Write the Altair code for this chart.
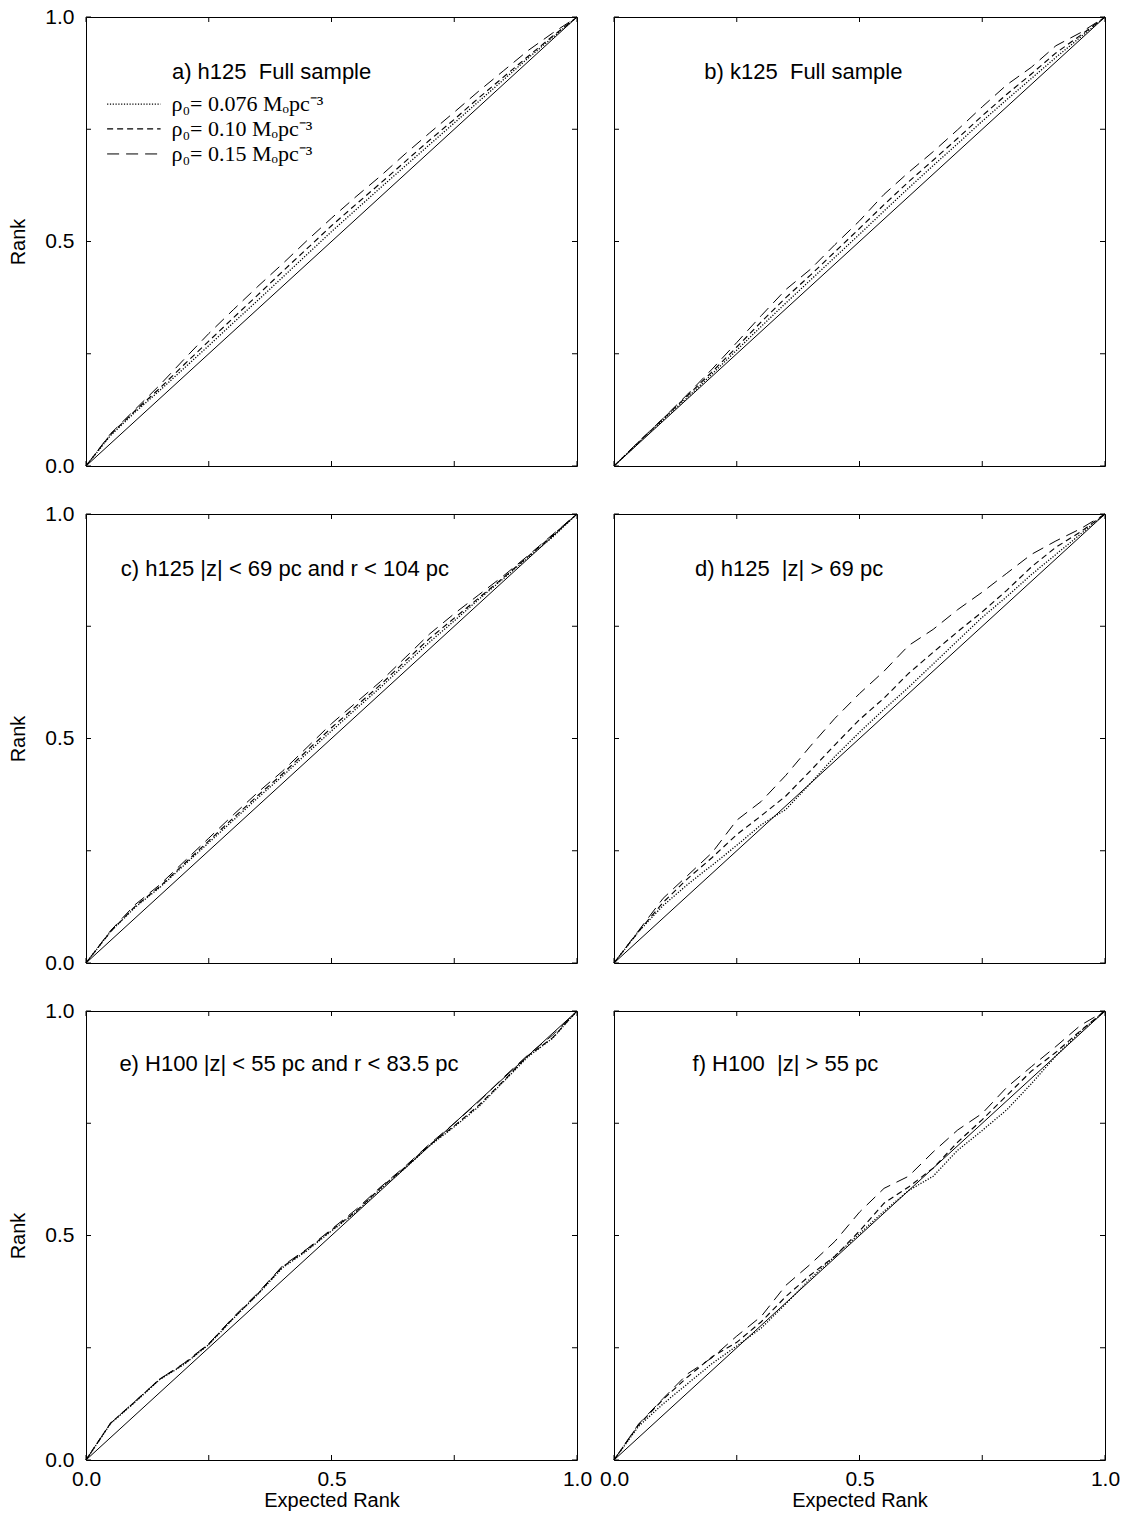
import altair as alt
import pandas as pd

# ---------------- data ----------------
x_grid = [0, .05, .10, .15, .20, .25, .30, .35, .40, .45, .50,
          .55, .60, .65, .70, .75, .80, .85, .90, .95, 1.0]

# panel a) h125 Full sample
a_dt = [0, .068, .120, .168, .218, .268, .319, .369, .420, .471, .522, .571, .620, .668, .716, .764, .812, .860, .908, .954, 1]
a_md = [0, .070, .123, .173, .226, .278, .330, .381, .433, .484, .535, .583, .630, .678, .726, .772, .820, .866, .912, .957, 1]
a_ld = [0, .072, .126, .180, .238, .295, .348, .400, .450, .502, .552, .600, .646, .695, .742, .788, .835, .880, .925, .964, 1]
# panel b) k125 Full sample
b_dt = [0, .052, .103, .153, .205, .258, .311, .363, .414, .465, .516, .568, .619, .669, .718, .768, .816, .863, .910, .955, 1]
b_md = [0, .053, .105, .157, .210, .265, .321, .375, .425, .477, .529, .582, .633, .681, .730, .780, .828, .873, .920, .959, 1]
b_ld = [0, .054, .106, .160, .216, .275, .335, .393, .438, .493, .546, .605, .654, .700, .749, .800, .849, .888, .936, .965, 1]
# panel c) h125 |z| < 69 pc and r < 104 pc
c_dt = [0, .070, .124, .168, .218, .268, .318, .368, .416, .467, .517, .566, .614, .665, .715, .762, .810, .856, .903, .948, 1]
c_md = [0, .070, .126, .170, .221, .272, .323, .373, .421, .473, .524, .572, .620, .672, .723, .768, .813, .858, .905, .952, 1]
c_ld = [0, .072, .130, .174, .226, .278, .330, .380, .427, .480, .533, .580, .627, .680, .733, .778, .820, .862, .907, .954, 1]
# panel d) h125 |z| > 69 pc
d_dt = [0, .070, .128, .175, .218, .262, .308, .342, .400, .460, .514, .565, .614, .666, .718, .770, .816, .865, .910, .955, 1]
d_md = [0, .070, .135, .188, .235, .286, .328, .372, .428, .486, .542, .590, .645, .692, .738, .782, .830, .882, .926, .960, 1]
d_ld = [0, .072, .144, .195, .246, .318, .360, .418, .483, .545, .600, .650, .707, .743, .787, .826, .868, .910, .940, .967, 1]
# panel e) H100 |z| < 55 pc and r < 83.5 pc
e_dt = [0, .081, .129, .179, .213, .257, .315, .369, .428, .466, .510, .552, .604, .650, .700, .742, .787, .842, .898, .939, 1]
e_md = [0, .082, .130, .180, .214, .258, .316, .370, .430, .468, .512, .554, .606, .652, .702, .744, .790, .844, .900, .940, 1]
e_ld = [0, .082, .131, .180, .216, .259, .318, .372, .432, .470, .514, .558, .608, .654, .704, .750, .798, .852, .902, .946, 1]
# panel f) H100 |z| > 55 pc
f_dt = [0, .075, .125, .170, .215, .254, .294, .348, .404, .454, .504, .554, .600, .632, .690, .734, .780, .838, .900, .954, 1]
f_md = [0, .078, .135, .185, .230, .262, .308, .364, .412, .454, .510, .572, .608, .650, .708, .758, .812, .866, .908, .956, 1]
f_ld = [0, .080, .137, .192, .228, .276, .320, .389, .436, .487, .552, .605, .632, .686, .735, .772, .830, .876, .921, .968, 1]

diag_x = [0, 1]
diag_y = [0, 1]

series_keys = ["dt", "md", "ld"]
panel_series = [
    [a_dt, a_md, a_ld], [b_dt, b_md, b_ld],
    [c_dt, c_md, c_ld], [d_dt, d_md, d_ld],
    [e_dt, e_md, e_ld], [f_dt, f_md, f_ld],
]

panel_titles = [
    "a) h125\u00a0 Full sample",
    "b) k125\u00a0 Full sample",
    "c) h125 |z| < 69 pc and r < 104 pc",
    "d) h125\u00a0 |z| > 69 pc",
    "e) H100 |z| < 55 pc and r < 83.5 pc",
    "f) H100\u00a0 |z| > 55 pc",
]
title_x = [0.175, 0.184, 0.071, 0.165, 0.068, 0.160]
title_y = [0.877, 0.877, 0.877, 0.878, 0.882, 0.882]

legend_labels = ["ρ₀= 0.076 Mₒpc⁻³", "ρ₀= 0.10 Mₒpc⁻³", "ρ₀= 0.15 Mₒpc⁻³"]
legend_y = [0.806, 0.751, 0.695]
legend_x0 = [0.043, 0.043, 0.043]
legend_x1 = [0.152, 0.152, 0.152]
legend_tx = [0.174, 0.174, 0.174]

tick_values = [0, 0.25, 0.5, 0.75, 1.0]

# ---------------- chart ----------------
W, H = 491, 449
TL = 5
dash_scale = alt.Scale(domain=series_keys, range=[[1.2, 1.6], [6, 4], [12, 7]])
width_scale = alt.Scale(domain=series_keys, range=[1.3, 1.0, 1.0])
sx = alt.Scale(domain=[0, 1], nice=False, zero=False)
sy = alt.Scale(domain=[0, 1], nice=False, zero=False)


def make_panel(i):
    left = i % 2 == 0
    bottom = i >= 4
    rows = []
    for key, ys in zip(series_keys, panel_series[i]):
        for xv, yv in zip(x_grid, ys):
            rows.append({"x": xv, "y": yv, "s": key})
    df = pd.DataFrame(rows)

    if bottom:
        xaxis = alt.Axis(values=[0, 0.5, 1], format=".1f", ticks=False, domain=False,
                         grid=False, title="Expected Rank", labelFlush=False,
                         labelPadding=8, titlePadding=1)
    else:
        xaxis = alt.Axis(labels=False, ticks=False, domain=False, grid=False, title="")
    if left:
        yaxis = alt.Axis(values=[0, 0.5, 1], format=".1f", ticks=False, domain=False,
                         grid=False, title="Rank", labelFlush=False,
                         labelPadding=12, titlePadding=16)
    else:
        yaxis = alt.Axis(labels=False, ticks=False, domain=False, grid=False, title="")

    curves = alt.Chart(df).mark_line(color="black").encode(
        x=alt.X("x:Q", scale=sx, axis=xaxis),
        y=alt.Y("y:Q", scale=sy, axis=yaxis),
        strokeDash=alt.StrokeDash("s:N", scale=dash_scale, legend=None),
        strokeWidth=alt.StrokeWidth("s:N", scale=width_scale, legend=None),
    )
    diag = alt.Chart(pd.DataFrame({"x": diag_x, "y": diag_y})).mark_line(
        color="black", strokeWidth=1).encode(x="x:Q", y="y:Q")

    tdf = pd.DataFrame({"x": tick_values, "y": tick_values})
    tb = alt.Chart(tdf).mark_rule(color="black", strokeWidth=1).encode(
        x="x:Q", y=alt.value(H), y2=alt.value(H - TL))
    tt = alt.Chart(tdf).mark_rule(color="black", strokeWidth=1).encode(
        x="x:Q", y=alt.value(0), y2=alt.value(TL))
    tlft = alt.Chart(tdf).mark_rule(color="black", strokeWidth=1).encode(
        y="y:Q", x=alt.value(0), x2=alt.value(TL))
    trt = alt.Chart(tdf).mark_rule(color="black", strokeWidth=1).encode(
        y="y:Q", x=alt.value(W), x2=alt.value(W - TL))

    title = alt.Chart(pd.DataFrame({"x": [title_x[i]], "y": [title_y[i]],
                                    "t": [panel_titles[i]]})).mark_text(
        align="left", baseline="middle", font="Liberation Sans", fontSize=22,
        color="black").encode(x="x:Q", y="y:Q", text="t:N")

    layers = [diag, curves, tb, tt, tlft, trt, title]
    if i == 0:
        ldf = pd.DataFrame({"x": legend_x0, "x2": legend_x1, "y": legend_y,
                            "tx": legend_tx, "s": series_keys, "t": legend_labels})
        lrule = alt.Chart(ldf).mark_rule(color="black").encode(
            x="x:Q", x2="x2:Q", y="y:Q",
            strokeDash=alt.StrokeDash("s:N", scale=dash_scale, legend=None),
            strokeWidth=alt.StrokeWidth("s:N", scale=width_scale, legend=None))
        ltext = alt.Chart(ldf).mark_text(
            align="left", baseline="middle", font="Liberation Serif", fontSize=22,
            color="black").encode(x="tx:Q", y="y:Q", text="t:N")
        layers += [lrule, ltext]
    return alt.layer(*layers).properties(width=W, height=H)


panels = [make_panel(i) for i in range(6)]

chart = alt.concat(*panels, columns=2, spacing={"row": 48, "column": 37},
                   bounds="flush").properties(
    padding={"left": 8, "top": 5, "right": 5, "bottom": 5},
    background="white",
).configure_view(stroke="black", strokeWidth=1).configure_axis(
    labelFont="Liberation Sans", labelFontSize=21, labelColor="black",
    titleFont="Liberation Sans", titleFontSize=20, titleColor="black",
    titleFontWeight="normal",
)

chart.save("out.html", embed_options={"renderer": "svg", "actions": False})
